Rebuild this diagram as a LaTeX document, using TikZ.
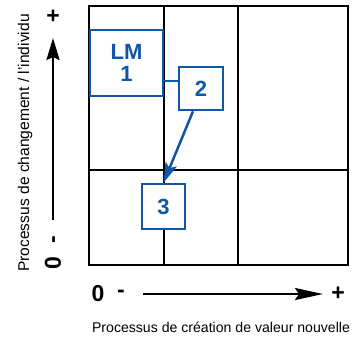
\documentclass[tikz,border=0pt]{standalone}
\usepackage{fontspec}
\setmainfont{Liberation Sans}
\usetikzlibrary{arrows.meta}
\definecolor{boxblue}{RGB}{16,86,166}
\begin{document}
\begin{tikzpicture}[x=1pt,y=-1pt,
  gridline/.style={line width=2pt,black},
  bluebox/.style={draw=boxblue,line width=2.5pt,fill=white,text=boxblue,font=\fontsize{22}{23}\selectfont\bfseries,align=center,inner sep=0pt},
  axisarrow/.style={line width=2.5pt,black},
  axsym/.style={font=\fontsize{23}{24}\selectfont\bfseries,inner sep=0pt},
  axlabel/.style={font=\fontsize{14.1}{16}\selectfont,inner sep=0pt}]
\useasboundingbox (0,0) rectangle (352,338);
% grid
\draw[gridline] (89,6) rectangle (348,265);
\draw[gridline] (164,6) -- (164,265);
\draw[gridline] (238,6) -- (238,265);
\draw[gridline] (89,170) -- (348,170);
% boxes
\node[bluebox,minimum width=73pt,minimum height=66pt] (lm) at (126.5,63) {LM\\[-1pt]1};
\node[bluebox,minimum width=44pt,minimum height=43pt] (b2) at (201,88.5) {2};
\node[bluebox,minimum width=43pt,minimum height=45pt] (b3) at (163.5,206.5) {3};
\coordinate (l2) at (0,81);
\draw[boxblue,line width=2.5pt] (lm.east |- l2) -- (b2.west |- l2);
\draw[boxblue,line width=2.5pt,-{Stealth[length=20pt,width=12pt,inset=4pt]}] ([xshift=-8pt]b2.south) -- (b3.north);
% y axis
\coordinate (ya) at (53,220);
\coordinate (yb) at (53,38);
\draw[axisarrow,-{Stealth[length=22pt,width=13pt,inset=3pt]}] (ya) -- (yb);
\node[axsym] (yplus) at (53,17) {+};
\node[axsym,rotate=90] (yminus) at (56,240) {-};
\node[axsym,rotate=90] (yzero) at (53,263) {0};
\node[axlabel,font=\fontsize{15.6}{17}\selectfont,rotate=90] (ylab) at (25,143) {Processus de changement / l'individu};
% x axis
\coordinate (xa) at (143,294);
\coordinate (xb) at (323,294);
\draw[axisarrow,-{Stealth[length=28pt,width=12pt,inset=4pt]}] (xa) -- (xb);
\node[axsym] (xzero) at (98,294) {0};
\node[axsym] (xminus) at (121,294) {-};
\node[axsym] (xplus) at (338,294) {+};
\node[axlabel] (xlab) at (221,327) {Processus de création de valeur nouvelle};
\end{tikzpicture}
\end{document}
